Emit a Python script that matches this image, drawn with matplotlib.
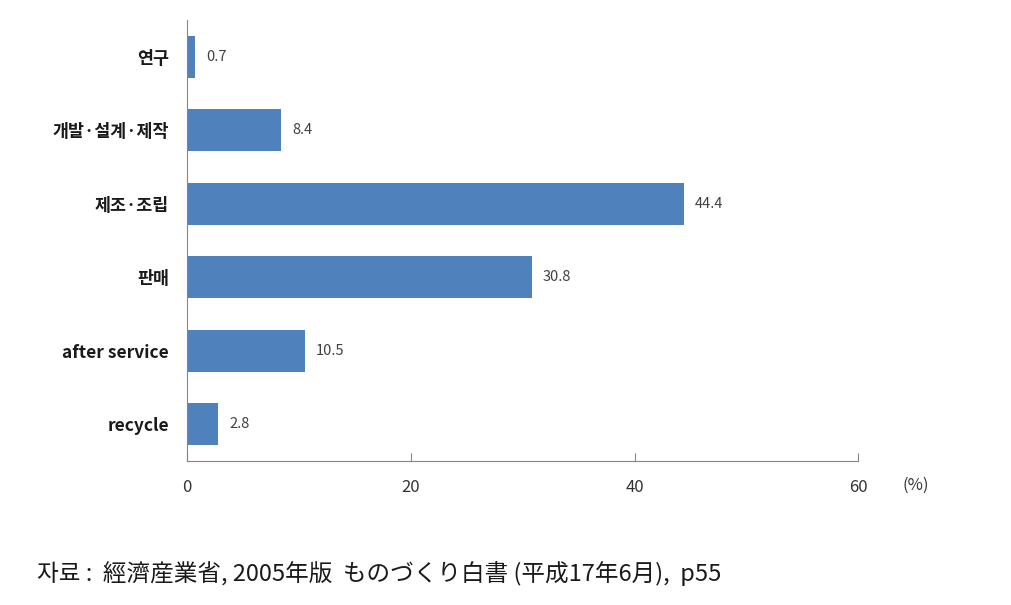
import matplotlib
matplotlib.use("Agg")
from matplotlib import pyplot as plt

plt.rcParams['font.family'] = ['Noto Sans CJK KR', 'DejaVu Sans']

# 데이터
categories = ["연구", "개발·설계·제작", "제조·조립", "판매", "after service", "recycle"]
values = [0.7, 8.4, 44.4, 30.8, 10.5, 2.8]
xticks = [0, 20, 40, 60]

fig = plt.figure(figsize=(10.11, 6.05), dpi=100)
ax = fig.add_axes([0.185, 0.238, 0.664, 0.729])

ypos = list(range(len(categories)))
ax.barh(ypos, values, height=0.57, color="#4F81BD")
for y, v in zip(ypos, values):
    ax.text(v + 1.0, y, f"{v}", va="center", ha="left", fontsize=10.5, color="#404040")

ax.set_ylim(len(categories) - 0.5, -0.5)
ax.set_xlim(0, 60)
ax.set_yticks(ypos)
ax.set_yticklabels(categories, fontsize=12.5, fontweight="bold", color="#1a1a1a")
ax.set_xticks(xticks)
ax.set_xticklabels([str(t) for t in xticks], fontsize=12, color="#333333")

for s in ["top", "right"]:
    ax.spines[s].set_visible(False)
for s in ["left", "bottom"]:
    ax.spines[s].set_color("#868686")
ax.tick_params(axis="y", length=0, pad=13)
ax.tick_params(axis="x", direction="in", length=6, color="#868686", pad=13)

ax.text(1.085, -0.036, "(%)", transform=ax.transAxes, fontsize=12, color="#333333",
        va="top", ha="center")

fig.text(0.037, 0.04, "자료 :  經濟産業省, 2005年版  ものづくり白書 (平成17年6月),  p55",
         fontsize=17, color="#1a1a1a", family=['Noto Sans CJK JP', 'DejaVu Sans'])

fig.savefig("out.png", dpi=100)
